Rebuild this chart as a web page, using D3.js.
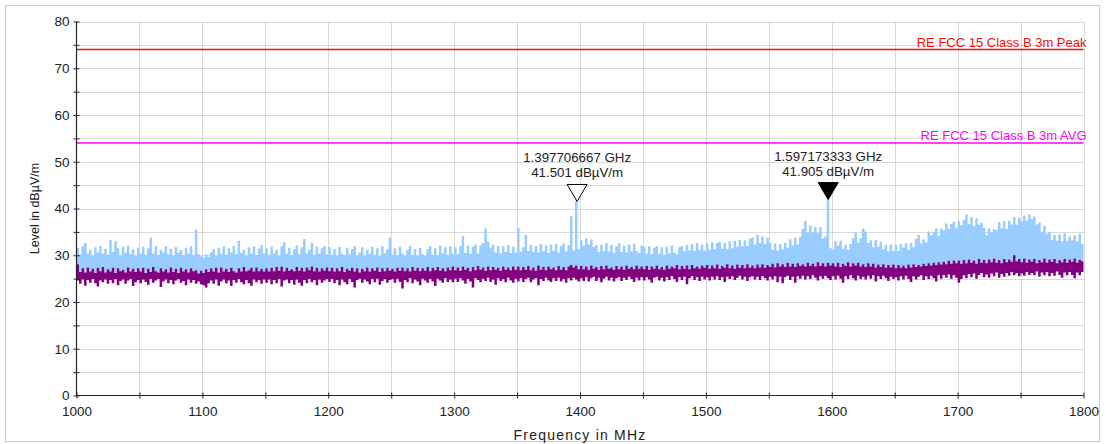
<!DOCTYPE html>
<html>
<head>
<meta charset="utf-8">
<script src="https://cdn.jsdelivr.net/npm/d3@7"></script>
<style>
  html, body { margin: 0; padding: 0; background: #fff; }
  svg { display: block; font-family: "Liberation Sans", Arial, sans-serif; }
</style>
</head>
<body>
<svg id="chart" width="1106" height="444"></svg>
<script>
// Sweep definition: 1000–1800 MHz, one max/min pair per 2 MHz bin
const sweepStart = 1000;
const sweepStep = 2;

// Peak detector, maximum per bin (dBµV/m)
const peakMax = [
  31.6,30.2,31.9,32.6,30.4,31.2,29.9,31.7,30.6,32.0,30.3,31.4,30.1,33.2,30.7,33.0,31.5,30.0,31.8,30.5,32.1,30.2,31.3,29.9,31.6,
  30.4,31.8,30.1,31.5,33.8,30.3,31.9,30.0,31.2,30.6,32.0,30.2,31.4,29.9,31.7,30.5,31.1,30.0,31.6,30.3,31.9,30.1,35.5,30.2,29.8,
  29.5,30.2,29.7,30.6,31.3,29.9,31.6,30.4,31.9,30.1,31.5,30.6,32.0,30.2,33.1,30.5,31.2,29.9,31.7,30.3,31.9,30.0,31.4,32.2,30.4,
  31.5,30.1,31.8,30.4,31.1,29.9,31.9,32.8,30.3,31.6,30.0,31.3,32.1,30.2,31.7,33.5,30.4,31.2,32.7,30.1,31.8,30.3,31.5,31.9,30.2,
  31.7,30.1,31.4,29.9,31.8,30.3,30.0,31.6,30.2,31.3,31.9,30.0,30.6,31.7,29.9,31.2,30.3,31.8,30.1,31.5,29.9,31.9,30.4,31.3,33.8,
  30.1,31.5,29.9,31.8,30.3,29.8,31.2,31.9,30.0,31.4,29.9,31.6,30.2,29.8,31.3,32.0,30.1,31.5,30.0,32.1,30.4,31.7,30.1,31.9,30.3,
  31.7,30.2,31.9,34.1,30.5,32.1,30.3,31.8,32.3,30.4,32.1,32.6,35.7,32.9,31.6,32.3,30.6,32.0,30.4,31.9,30.7,32.2,30.5,31.8,30.6,
  35.9,30.8,31.7,34.4,30.9,32.2,30.7,32.0,30.6,32.4,30.8,32.1,30.5,32.3,30.9,32.4,30.6,31.9,32.5,30.8,32.2,38.4,31.0,41.501,31.4,
  33.2,32.1,33.6,32.3,33.4,31.8,32.2,30.7,32.3,30.9,32.6,30.8,32.2,30.5,31.9,32.6,30.7,32.1,30.6,32.3,30.8,32.5,30.9,30.5,32.1,
  31.8,30.4,31.9,30.2,31.6,32.0,30.3,31.7,30.1,31.8,30.4,32.1,30.5,30.2,31.7,32.0,30.9,32.2,31.0,32.4,30.9,32.6,31.1,32.3,31.0,
  32.5,31.2,32.8,31.3,32.6,32.9,31.4,32.7,31.3,33.0,31.5,33.1,31.8,33.3,31.9,33.2,32.0,33.5,33.8,32.3,34.4,32.6,34.0,32.4,33.8,
  32.7,31.2,32.5,31.0,32.4,31.3,32.6,31.6,33.4,32.1,33.8,32.3,33.9,35.6,37.4,34.8,36.3,34.9,36.1,34.7,36.0,33.6,34.0,41.905,31.5,
  31.3,33.0,32.1,33.1,31.4,32.2,31.2,32.4,33.6,34.8,32.7,33.6,35.7,35.1,32.6,33.2,31.7,33.3,31.8,32.9,31.3,32.2,30.9,32.3,30.9,
  32.2,30.9,32.4,31.6,32.5,31.2,32.6,31.7,33.5,34.4,32.5,33.4,32.8,35.1,34.3,35.0,35.8,34.1,35.7,35.3,36.8,35.6,36.7,37.2,35.8,
  37.3,36.4,37.6,38.7,36.7,38.2,36.2,37.9,36.5,37.0,35.9,34.3,35.7,34.9,35.6,35.4,37.1,35.8,37.3,35.6,37.4,36.6,38.2,36.5,38.0,
  37.2,38.5,37.4,38.7,37.8,38.3,36.6,37.0,34.9,36.3,34.6,34.9,33.2,34.4,33.1,34.5,33.0,34.7,33.1,34.0,33.2,34.3,33.0,34.6,32.4,
  32.9
];

// Average detector, maximum per bin (dBµV/m)
const avgMax = [
  28.1,26.4,27.2,26.3,27.4,26.5,27.1,26.2,27.3,26.6,27.5,26.3,27.0,26.5,27.3,26.2,27.2,26.6,26.9,26.3,27.4,26.5,27.1,26.4,27.2,
  26.5,27.3,26.2,27.1,26.4,27.5,26.6,26.3,27.2,26.5,27.0,26.3,27.4,26.4,27.1,26.2,27.3,26.5,27.0,26.3,27.2,26.6,26.8,26.1,26.7,
  26.2,27.0,26.4,27.2,26.5,27.3,26.3,27.4,26.5,27.1,26.4,27.3,26.6,26.3,27.2,26.5,27.5,26.6,26.8,27.3,26.5,27.4,26.6,27.1,26.5,
  27.2,26.5,27.3,26.6,27.5,26.7,27.6,26.5,27.3,26.7,27.0,26.6,27.5,26.7,27.3,26.5,27.4,26.8,27.6,26.6,27.3,26.5,27.2,26.7,27.4,
  26.6,27.3,26.5,27.2,26.6,27.5,26.4,27.1,26.7,27.3,26.5,27.2,26.3,27.1,26.6,27.4,26.5,27.2,26.7,27.4,26.4,27.2,26.6,27.3,26.7,
  27.1,26.5,27.3,26.7,27.4,26.6,27.2,26.5,27.5,26.7,27.3,26.6,27.2,26.7,27.5,26.6,27.3,26.8,27.5,26.7,27.2,26.6,27.4,26.8,27.6,
  26.8,27.4,26.7,27.6,26.9,27.3,26.6,27.5,26.8,27.7,26.9,27.4,26.7,27.6,26.8,27.5,26.9,27.3,26.7,27.6,26.9,27.4,26.8,27.6,26.9,
  27.6,26.8,27.5,26.9,27.7,26.8,27.4,26.7,27.8,26.9,27.5,26.8,27.6,27.0,27.4,26.8,27.7,26.9,27.5,26.8,27.6,27.9,27.4,27.8,27.0,
  27.7,27.0,27.6,26.9,27.8,27.1,27.5,26.9,27.7,27.0,27.8,27.1,27.4,26.9,27.7,27.0,27.6,26.9,27.8,27.1,27.5,27.0,27.8,27.1,27.6,
  27.0,27.7,26.9,27.6,27.1,27.8,27.0,27.5,26.9,27.8,27.1,27.6,27.2,27.9,27.0,27.7,27.1,27.8,27.0,27.9,27.2,27.6,27.1,27.8,27.3,
  27.9,27.1,27.8,27.2,28.0,27.1,27.7,27.3,28.1,27.2,27.8,27.1,28.0,27.3,27.9,27.2,28.1,27.3,27.8,27.2,28.0,27.4,28.1,27.3,27.9,
  27.5,28.2,27.4,28.3,27.6,28.1,27.5,28.4,27.6,28.2,27.5,28.3,27.7,28.1,27.6,28.4,27.7,28.2,27.6,28.5,27.7,28.3,27.6,28.4,27.8,
  28.3,27.6,28.4,27.5,28.2,27.7,28.5,27.6,28.3,27.8,28.4,27.6,28.1,27.5,28.3,27.6,28.2,27.4,28.0,27.5,28.1,27.3,27.9,27.4,28.0,
  27.2,27.9,27.3,27.8,27.2,28.0,27.4,28.1,27.5,27.9,27.6,28.2,27.7,28.3,27.8,28.4,27.9,28.5,28.0,28.6,28.1,28.8,28.2,28.9,28.3,
  28.9,28.2,29.0,28.3,29.1,28.4,28.9,28.2,29.2,28.4,29.0,28.3,29.1,28.5,29.3,28.4,29.0,28.3,29.2,28.5,29.1,28.6,30.0,28.7,29.2,
  28.5,29.3,28.4,29.1,28.6,29.2,28.3,29.0,28.5,29.3,28.4,29.1,28.6,29.2,28.3,29.0,28.5,29.2,28.4,29.1,28.6,29.3,28.4,29.0,28.7,
  29.1
];

// Average detector, minimum per bin (dBµV/m)
const avgMin = [
  24.6,23.9,24.8,23.5,24.7,24.1,24.9,24.0,23.3,24.6,24.2,24.8,23.9,24.7,24.0,24.9,23.6,24.5,24.8,23.9,24.6,24.9,23.4,24.2,24.7,
  24.0,24.8,24.3,23.7,24.9,24.1,24.6,24.9,23.2,24.4,24.8,24.0,24.7,23.8,24.6,24.9,24.1,24.5,23.6,24.8,24.1,24.7,23.9,24.4,23.8,
  23.6,23.1,24.0,24.6,23.9,24.8,23.5,24.4,24.8,24.0,24.6,23.4,24.7,24.1,24.9,24.2,23.8,24.7,24.0,23.5,24.8,24.2,24.7,23.9,24.8,
  24.1,24.8,23.8,24.7,24.0,24.9,23.3,24.6,24.8,24.0,24.7,23.7,24.8,24.1,23.5,24.7,24.0,24.9,24.2,24.7,23.6,24.8,24.1,24.6,24.9,
  24.3,24.9,24.0,24.7,23.6,24.8,24.2,23.8,24.9,24.3,23.1,24.7,25.0,24.1,24.8,24.4,23.8,24.9,24.2,25.0,23.7,24.5,24.9,24.1,24.7,
  24.9,24.1,25.0,24.3,22.9,24.7,24.2,25.1,24.0,24.8,24.4,23.6,25.0,24.6,24.1,24.9,24.4,23.4,25.0,24.6,24.1,25.1,24.3,24.8,24.2,
  25.0,24.3,25.1,24.6,23.9,24.9,24.4,23.1,25.1,24.7,24.2,25.0,24.5,25.2,24.3,24.8,23.7,25.1,24.5,24.9,24.2,25.2,24.6,24.1,25.0,
  24.4,25.1,24.3,24.9,25.2,24.2,24.8,25.1,23.6,24.9,24.5,25.2,24.6,24.3,25.1,24.5,25.2,24.4,24.9,24.1,25.1,24.6,25.2,24.8,24.4,
  25.1,24.5,25.3,24.4,25.1,25.4,24.5,25.2,24.2,25.0,25.4,24.6,25.2,24.4,25.1,25.3,24.5,25.2,24.7,25.4,24.9,24.3,25.2,24.6,25.3,
  24.6,25.3,24.8,24.1,25.2,25.4,24.6,25.2,24.4,25.3,24.7,25.5,24.9,24.3,25.3,24.7,25.4,23.8,25.1,25.5,24.7,25.3,24.5,25.4,24.8,
  25.3,24.6,25.4,24.8,25.5,24.7,25.3,24.3,25.4,24.9,25.5,24.7,25.2,25.6,24.8,25.4,24.5,25.3,25.5,24.8,25.4,24.7,25.5,25.1,24.6,
  25.4,24.8,25.5,24.2,25.4,24.0,25.3,25.6,24.7,25.4,24.1,25.5,25.0,25.6,24.8,25.5,24.9,25.7,25.2,24.6,25.5,25.0,25.6,25.1,24.7,
  25.5,24.8,25.6,25.0,24.1,25.5,24.9,25.7,25.1,24.6,25.6,24.9,25.4,24.8,25.6,25.0,25.7,24.4,25.5,24.9,25.6,25.1,24.5,25.4,24.9,
  25.3,24.6,25.5,24.8,25.6,24.9,24.3,25.5,24.8,25.4,25.7,24.7,25.5,24.9,25.6,25.1,24.4,25.7,25.0,25.8,25.2,25.9,25.0,25.7,25.2,
  24.1,24.9,25.7,25.1,26.0,25.3,26.1,25.0,25.8,26.2,25.3,25.9,25.2,26.1,25.5,26.3,25.2,26.0,25.4,26.2,25.6,26.4,25.7,26.2,25.5,
  26.1,25.6,26.4,25.8,26.2,25.7,26.5,25.4,26.3,25.7,26.4,25.5,26.2,25.6,26.5,25.8,25.2,26.3,25.7,26.4,25.8,25.1,26.3,25.7,26.4,
  25.9
];

// Limit lines
const limitNames = ["RE FCC 15 Class B 3m Peak", "RE FCC 15 Class B 3m AVG"];
const limitLevels = [74, 54];
const limitColors = ["#f01010", "#ff00ff"];

// Markers
const markerFreqs = [1397.706667, 1597.173333];
const markerLevels = [41.501, 41.905];
const markerFreqLabels = ["1.397706667 GHz", "1.597173333 GHz"];
const markerFilled = [false, true];

// Axis ticks
const xTicks = [1000,1050,1100,1150,1200,1250,1300,1350,1400,1450,1500,1550,1600,1650,1700,1750,1800];
const xTickLabels = ["1000","","1100","","1200","","1300","","1400","","1500","","1600","","1700","","1800"];
const yTicks = [0,5,10,15,20,25,30,35,40,45,50,55,60,65,70,75,80];
const yTickLabels = ["0","","10","","20","","30","","40","","50","","60","","70","","80"];

const svg = d3.select("#chart");

// frame
svg.append("rect")
  .attr("x", 5.5).attr("y", 5.5).attr("width", 1094).attr("height", 436)
  .attr("fill", "none").attr("stroke", "#c8c8c8").attr("stroke-width", 1);

const x = d3.scaleLinear().domain([1000, 1800]).range([76.5, 1083.5]);
const y = d3.scaleLinear().domain([0, 80]).range([395.5, 21.5]);

// grid
const grid = svg.append("g").attr("stroke", "#b4b4b4").attr("stroke-width", 1).attr("stroke-dasharray", "1,1");
grid.selectAll("line.v").data(xTicks.slice(1)).join("line")
  .attr("x1", d => Math.round(x(d)) + 0.5).attr("x2", d => Math.round(x(d)) + 0.5)
  .attr("y1", y(0)).attr("y2", y(80));
grid.selectAll("line.h").data(yTicks.slice(1)).join("line")
  .attr("y1", d => Math.round(y(d)) + 0.5).attr("y2", d => Math.round(y(d)) + 0.5)
  .attr("x1", x(1000)).attr("x2", x(1800));

// traces: each bin spans one sweep step, drawn from its min to its max
const freqOf = i => sweepStart + i * sweepStep;
const idx = d3.range(peakMax.length);

const peakArea = d3.area()
  .curve(d3.curveStepAfter)
  .x(i => x(freqOf(i)))
  .y0(i => y(avgMax[i]))
  .y1(i => y(peakMax[i]));
svg.append("path").datum(idx)
  .attr("d", peakArea)
  .attr("fill", "#99ccff");

const avgArea = d3.area()
  .curve(d3.curveStepAfter)
  .x(i => x(freqOf(i)))
  .y0(i => y(avgMin[i]))
  .y1(i => y(avgMax[i]));
svg.append("path").datum(idx)
  .attr("d", avgArea)
  .attr("fill", "#800080");

// limit lines
const limits = limitNames.map((n, i) => ({name: n, level: limitLevels[i], color: limitColors[i]}));
svg.selectAll("line.limit").data(limits).join("line")
  .attr("x1", x(1000)).attr("x2", x(1800))
  .attr("y1", d => y(d.level)).attr("y2", d => y(d.level))
  .attr("stroke", d => d.color).attr("stroke-width", 1.6);
svg.selectAll("text.limit").data(limits).join("text")
  .attr("x", x(1800) + 3).attr("y", d => y(d.level) - 3)
  .attr("text-anchor", "end")
  .attr("font-size", 13)
  .attr("fill", d => d.color)
  .text(d => d.name);

// axes
const yAxis = svg.append("g").attr("transform", `translate(${x(1000)},0)`)
  .call(d3.axisLeft(y).tickValues(yTicks).tickSize(3).tickPadding(4)
    .tickFormat((d, i) => yTickLabels[i]));
const xAxis = svg.append("g").attr("transform", `translate(0,${y(0)})`)
  .call(d3.axisBottom(x).tickValues(xTicks).tickSize(3).tickPadding(8)
    .tickFormat((d, i) => xTickLabels[i]));
[yAxis, xAxis].forEach(g => {
  g.select(".domain").attr("stroke", "#222").attr("stroke-width", 1.2);
  g.selectAll(".tick line").attr("stroke", "#222");
  g.selectAll(".tick text").attr("font-size", 13.5).attr("fill", "#222")
    .attr("font-family", "'Liberation Sans', Arial, sans-serif");
});
yAxis.selectAll(".tick line").attr("x1", 3);
xAxis.selectAll(".tick line").attr("y1", -3);
yAxis.select(".domain").attr("d", `M0,${y(0)}V${y(80)}`);
xAxis.select(".domain").attr("d", `M${x(1000)},0H${x(1800)}`);

// axis titles
svg.append("text")
  .attr("x", (x(1000) + x(1800)) / 2).attr("y", 440)
  .attr("text-anchor", "middle").attr("font-size", 14).attr("letter-spacing", 1.2)
  .attr("fill", "#222")
  .text("Frequency in MHz");
svg.append("text")
  .attr("transform", `translate(39,${(y(0) + y(80)) / 2}) rotate(-90)`)
  .attr("text-anchor", "middle").attr("font-size", 12.5).attr("fill", "#222")
  .text("Level in dBµV/m");

// markers
const markers = markerFreqs.map((f, i) => ({
  f, level: markerLevels[i], label: markerFreqLabels[i], filled: markerFilled[i]
}));
const mg = svg.selectAll("g.marker").data(markers).join("g")
  .attr("transform", d => `translate(${x(d.f)},${y(d.level)})`);
mg.append("path")
  .attr("d", "M0,0L-10,-17L10,-17Z")
  .attr("fill", d => d.filled ? "#000" : "#fff")
  .attr("stroke", "#000").attr("stroke-width", 1);
mg.append("text")
  .attr("y", -24).attr("text-anchor", "middle").attr("font-size", 13.3).attr("fill", "#222")
  .text(d => `${d.level.toFixed(3)} dBµV/m`);
mg.append("text")
  .attr("y", -39).attr("text-anchor", "middle").attr("font-size", 13.3).attr("fill", "#222")
  .text(d => d.label);
</script>
</body>
</html>
